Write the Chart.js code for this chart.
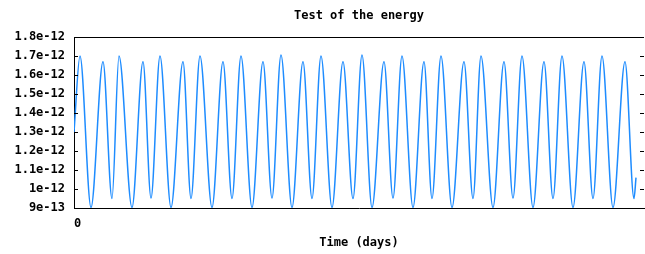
<!DOCTYPE html>
<html>
<head>
<meta charset="utf-8">
<script src="https://cdn.jsdelivr.net/npm/chart.js@4"></script>
<style>
  html, body { margin: 0; padding: 0; background: #fff; }
</style>
</head>
<body>
<canvas id="c" width="645" height="254"></canvas>
<script>
const chartTitle = 'Test of the energy';
const xTitle = 'Time (days)';

// turning points of the curve
const times = [
  0, 0.6, 1.7, 2.9, 3.8, 4.5, 5.8, 6.9, 7.7, 8.6,
  9.7, 10.9, 11.7, 12.6, 13.8, 14.9, 15.8, 16.7, 17.8, 18.9,
  19.8, 20.7, 21.8, 22.9, 23.8, 24.7, 25.8, 26.9, 27.9, 28.8,
  29.8, 31.0, 31.9, 32.8, 33.9, 35.0, 35.8, 36.7, 37.8, 39.0,
  39.9, 40.7, 41.9, 43.0, 43.9, 44.8, 45.9, 47.0, 47.9, 48.8,
  49.9, 51.0, 51.9, 52.8, 53.9, 55.1, 56.0, 56.2
];
const energy = [
  1.30e-12, 1.70e-12, 9.03e-13, 1.67e-12, 9.50e-13, 1.70e-12, 9.03e-13, 1.67e-12, 9.52e-13, 1.70e-12,
  9.03e-13, 1.67e-12, 9.50e-13, 1.70e-12, 9.03e-13, 1.67e-12, 9.50e-13, 1.70e-12, 9.03e-13, 1.67e-12,
  9.52e-13, 1.705e-12, 9.03e-13, 1.67e-12, 9.50e-13, 1.70e-12, 9.03e-13, 1.67e-12, 9.50e-13, 1.705e-12,
  9.03e-13, 1.67e-12, 9.52e-13, 1.70e-12, 9.03e-13, 1.67e-12, 9.50e-13, 1.70e-12, 9.03e-13, 1.67e-12,
  9.50e-13, 1.70e-12, 9.03e-13, 1.67e-12, 9.52e-13, 1.70e-12, 9.03e-13, 1.67e-12, 9.50e-13, 1.70e-12,
  9.03e-13, 1.67e-12, 9.50e-13, 1.70e-12, 9.03e-13, 1.67e-12, 9.50e-13, 1.06e-12
];

const yTicks = [9e-13, 1e-12, 1.1e-12, 1.2e-12, 1.3e-12, 1.4e-12, 1.5e-12, 1.6e-12, 1.7e-12, 1.8e-12];
const yTickLabels = ['9e-13', '1e-12', '1.1e-12', '1.2e-12', '1.3e-12', '1.4e-12', '1.5e-12', '1.6e-12', '1.7e-12', '1.8e-12'];
const xTicks = [0];
const xTickLabels = ['0'];

const monoFont = { family: '"DejaVu Sans Mono", monospace', size: 12, weight: 'bold' };

// top edge, inward tick marks on both sides, and the title centred on the plot
const frame = {
  id: 'frame',
  afterDraw(chart) {
    const { ctx, chartArea: a, scales: { y } } = chart;
    ctx.save();
    ctx.strokeStyle = '#000';
    ctx.lineWidth = 1;
    ctx.beginPath();
    ctx.moveTo(a.left, a.top + 0.5);
    ctx.lineTo(a.right, a.top + 0.5);
    yTicks.forEach(v => {
      const py = Math.round(y.getPixelForValue(v)) + 0.5;
      ctx.moveTo(a.left, py);
      ctx.lineTo(a.left + 4, py);
      ctx.moveTo(a.right - 4, py);
      ctx.lineTo(a.right, py);
    });
    ctx.stroke();
    ctx.font = 'bold 12px "DejaVu Sans Mono"';
    ctx.fillStyle = '#000';
    ctx.textAlign = 'center';
    ctx.textBaseline = 'middle';
    ctx.fillText(chartTitle, (a.left + a.right) / 2, 16);
    ctx.restore();
  }
};

const chart = new Chart(document.getElementById('c'), {
  type: 'line',
  data: {
    datasets: [{
      label: 'energy',
      data: times.map((t, i) => ({ x: t, y: energy[i] })),
      borderColor: '#1e8cff',
      borderWidth: 1.5,
      pointRadius: 0,
      cubicInterpolationMode: 'monotone',
      fill: false
    }]
  },
  options: {
    responsive: false,
    animation: false,
    layout: { padding: { top: 37, right: 1, left: 0, bottom: 0 } },
    plugins: {
      legend: { display: false },
      title: { display: false },
      tooltip: { enabled: false }
    },
    scales: {
      x: {
        type: 'linear',
        min: 0,
        max: 57,
        grid: { display: false, drawTicks: false },
        border: { display: true, color: '#000', width: 1 },
        afterBuildTicks: s => { s.ticks = xTicks.map(v => ({ value: v })); },
        afterFit: s => { s.height = 46; },
        ticks: {
          color: '#000',
          font: monoFont,
          padding: 9,
          align: 'start',
          maxRotation: 0,
          callback: (v, i) => xTickLabels[i]
        },
        title: {
          display: true,
          text: xTitle,
          color: '#000',
          font: monoFont,
          padding: { top: 4, bottom: 4 }
        }
      },
      y: {
        min: 9e-13,
        max: 1.8e-12,
        grid: { display: false, drawTicks: false },
        border: { display: true, color: '#000', width: 1 },
        afterBuildTicks: s => { s.ticks = yTicks.map(v => ({ value: v })); },
        afterFit: s => { s.width = 74; },
        ticks: {
          color: '#000',
          font: monoFont,
          padding: 9,
          callback: (v, i) => yTickLabels[i]
        }
      }
    }
  },
  plugins: [frame]
});
</script>
</body>
</html>
